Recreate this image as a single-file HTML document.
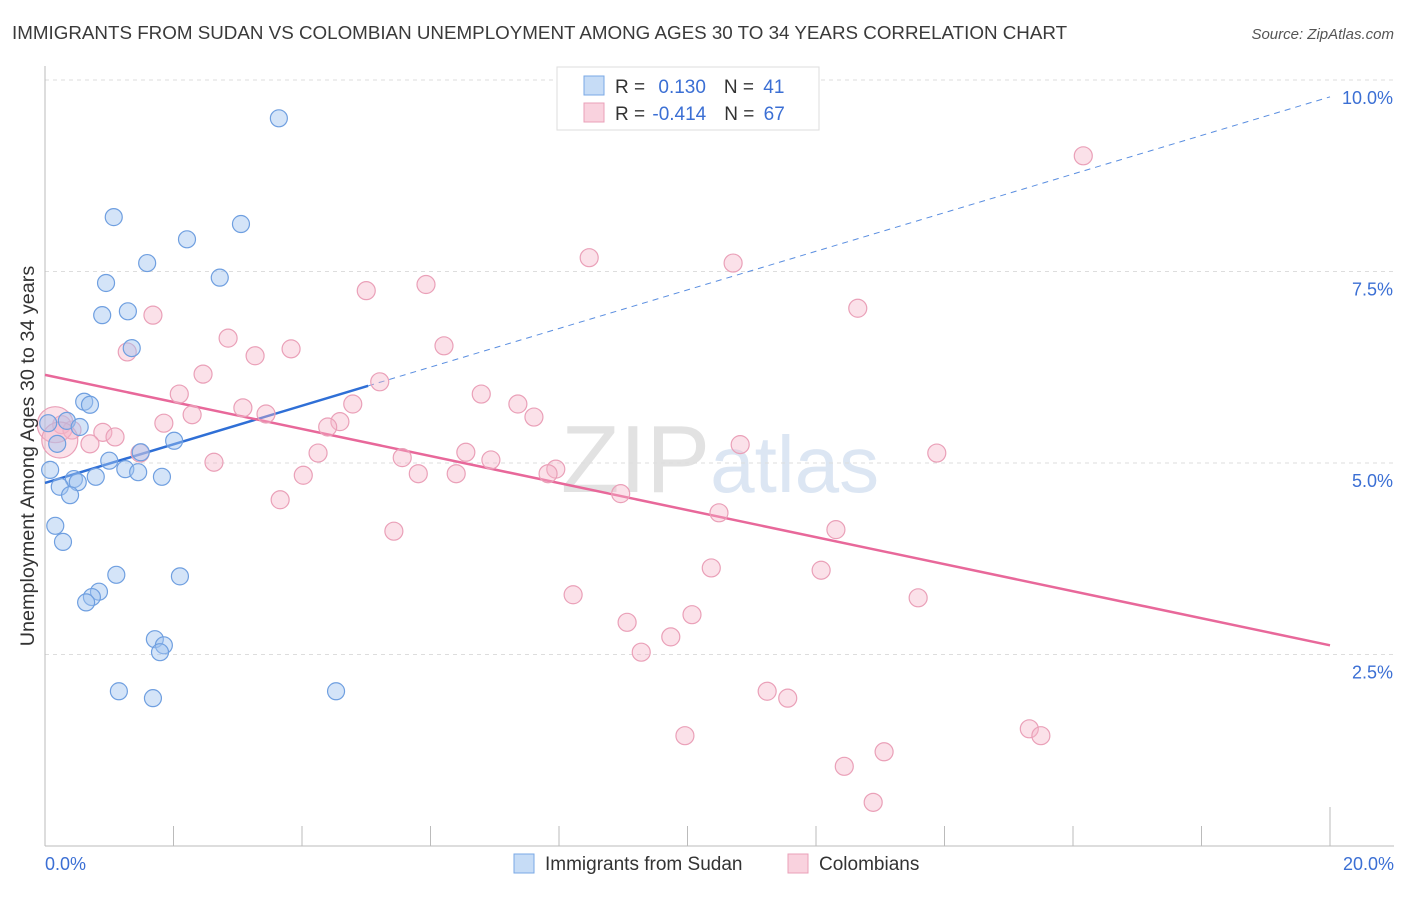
<!DOCTYPE html>
<html><head><meta charset="utf-8"><style>
body{margin:0;background:#fff;font-family:"Liberation Sans",sans-serif}
svg text{font-family:"Liberation Sans",sans-serif}
</style></head><body>
<svg id="chart" width="1406" height="892" viewBox="0 0 1406 892" xmlns="http://www.w3.org/2000/svg">
<text x="12" y="39" font-size="18.8" fill="#3a3a3a">IMMIGRANTS FROM SUDAN VS COLOMBIAN UNEMPLOYMENT AMONG AGES 30 TO 34 YEARS CORRELATION CHART</text>
<text x="1394" y="39" font-size="15" fill="#555" text-anchor="end" font-style="italic">Source: ZipAtlas.com</text>
<text x="720" y="492" font-size="96" fill="#e6e6e6" text-anchor="middle" font-family="Liberation Serif,serif"><tspan fill="#e2e2e2">ZIP</tspan><tspan fill="#dce6f3" font-family="Liberation Sans,sans-serif" font-size="80">atlas</tspan></text>
<g id="grid"></g><g id="axes"></g><g id="trend"></g><g id="pts"></g>
<text transform="translate(34,456) rotate(-90)" font-size="19.8" fill="#333" text-anchor="middle">Unemployment Among Ages 30 to 34 years</text>
<g>
<rect x="557" y="67" width="262" height="63" fill="#fff" stroke="#ddd"/>
<rect x="584" y="76" width="20" height="19" fill="rgba(160,196,240,0.6)" stroke="#7aa8e6"/>
<rect x="584" y="103" width="20" height="19" fill="rgba(245,180,200,0.6)" stroke="#eaa0b8"/>
<text x="615" y="93" font-size="19" fill="#333">R = <tspan fill="#3b6fd4" dx="8">0.130</tspan><tspan dx="18" fill="#333">N = </tspan><tspan fill="#3b6fd4" dx="4">41</tspan></text>
<text x="615" y="120" font-size="19" fill="#333">R = <tspan fill="#3b6fd4" dx="2">-0.414</tspan><tspan dx="18" fill="#333">N = </tspan><tspan fill="#3b6fd4" dx="4">67</tspan></text>
</g>
<g>
<rect x="514" y="854" width="20" height="19" fill="rgba(160,196,240,0.6)" stroke="#7aa8e6"/>
<text x="545" y="870" font-size="19" fill="#333">Immigrants from Sudan</text>
<rect x="788" y="854" width="20" height="19" fill="rgba(245,180,200,0.6)" stroke="#eaa0b8"/>
<text x="819" y="870" font-size="19" fill="#333">Colombians</text>
</g>
</svg>
<script>
const blueX=[3.64,1.07,3.05,2.21,1.59,2.72,0.95,1.29,0.89,1.35,0.61,0.70,0.34,0.54,2.01,1.49,0.19,0.08,1.00,1.25,1.45,1.82,0.45,0.79,0.51,0.23,0.39,0.16,0.28,1.11,2.10,0.84,0.73,0.64,1.71,1.85,1.79,1.15,1.68,4.53,0.05];
const blueY=[9.50,8.21,8.12,7.92,7.61,7.42,7.35,6.98,6.93,6.50,5.80,5.76,5.55,5.47,5.29,5.14,5.25,4.91,5.03,4.92,4.88,4.82,4.79,4.82,4.75,4.69,4.58,4.18,3.97,3.54,3.52,3.32,3.25,3.18,2.70,2.62,2.53,2.02,1.93,2.02,5.52];
const pinkX=[11.69,16.16,8.47,10.71,5.93,5.00,12.65,1.68,2.85,6.21,3.83,1.28,3.27,2.46,5.21,2.09,6.79,4.79,3.08,7.36,2.29,3.44,7.61,1.85,4.59,4.40,0.26,0.42,0.90,1.09,1.48,6.55,10.82,13.88,4.25,0.70,5.56,6.94,2.63,7.95,7.83,6.40,5.81,4.02,3.66,8.96,5.43,10.49,12.31,10.37,12.08,8.22,13.59,9.06,10.07,9.74,9.28,11.24,11.56,15.32,15.50,9.96,13.06,12.44,12.89,0.16,0.23];
const pinkY=[9.50,9.01,7.68,7.61,7.33,7.25,7.02,6.93,6.63,6.53,6.49,6.45,6.40,6.16,6.06,5.90,5.90,5.77,5.72,5.77,5.63,5.64,5.60,5.52,5.54,5.47,5.50,5.43,5.40,5.34,5.13,5.14,5.24,5.13,5.13,5.25,5.07,5.04,5.01,4.92,4.86,4.86,4.86,4.84,4.52,4.60,4.11,4.35,4.13,3.63,3.60,3.28,3.24,2.92,3.02,2.73,2.53,2.02,1.93,1.53,1.44,1.44,1.23,1.04,0.57,5.50,5.30];
const yTicks=[2.5,5.0,7.5,10.0];
const yTickLabels=["2.5%","5.0%","7.5%","10.0%"];
const xTickLabels=["0.0%","20.0%"];
const blueTrend=[4.74,9.78];
const blueSolidEnd=5.03;
const pinkTrend=[6.15,2.62];
const X=v=>45+v*64.25, Y=v=>846-v*76.6;
const NS="http://www.w3.org/2000/svg";
function mk(p,t,a){const e=document.createElementNS(NS,t);for(const k in a)e.setAttribute(k,a[k]);p.appendChild(e);return e;}
const grid=document.getElementById('grid'),axes=document.getElementById('axes'),trend=document.getElementById('trend'),pts=document.getElementById('pts');
yTicks.forEach((v,i)=>{
 const l=mk(grid,'line',{x1:45,x2:1394,y1:Y(v),y2:Y(v),stroke:'#ddd','stroke-dasharray':'4,4'});
 
 
 const t=mk(grid,'text',{x:1393,y:Y(v)+24,'font-size':18,fill:'#3b6fd4','text-anchor':'end'});
 t.textContent=yTickLabels[i];
 
 
});
const ax=mk(axes,'line',{x1:45,x2:1394,y1:846,y2:846,stroke:'#bbb'});


const ay=mk(axes,'line',{x1:45,x2:45,y1:66,y2:846,stroke:'#bbb'});


for(let i=1;i<=10;i++){
 const tk=mk(axes,'line',{x1:X(i*2),x2:X(i*2),y1:i==10?807:826,y2:846,stroke:'#bbb'});
 
 
}
[[0,'start',45],[20,'end',1394]].forEach((d,i)=>{
 const t=mk(axes,'text',{x:d[2],y:870,'font-size':18,fill:'#3b6fd4','text-anchor':d[1]});
 t.textContent=xTickLabels[i];
 
 
});
const bt=v=>blueTrend[0]+(blueTrend[1]-blueTrend[0])*v/20;
const b1=mk(trend,'line',{x1:X(0),y1:Y(bt(0)),x2:X(blueSolidEnd),y2:Y(bt(blueSolidEnd)),stroke:'#2f6fd6','stroke-width':2.5});


const b2=mk(trend,'line',{x1:X(blueSolidEnd),y1:Y(bt(blueSolidEnd)),x2:X(20),y2:Y(bt(20)),stroke:'#5a8ee0','stroke-width':1,'stroke-dasharray':'6,5'});


const p1=mk(trend,'line',{x1:X(0),y1:Y(pinkTrend[0]),x2:X(20),y2:Y(pinkTrend[1]),stroke:'#e8689a','stroke-width':2.5});


pinkX.forEach((x,i)=>{
 const big=i>=pinkX.length-2;
 const c=mk(pts,'circle',{cx:X(x),cy:Y(pinkY[i]),r:big?18:9,fill:'rgba(245,180,200,0.4)',stroke:'#eaa0b8','stroke-width':1.2});
 
 
});
blueX.forEach((x,i)=>{
 const c=mk(pts,'circle',{cx:X(x),cy:Y(blueY[i]),r:8.5,fill:'rgba(160,196,240,0.45)',stroke:'#6f9fe0','stroke-width':1.2});
 
 
});
</script>
</body></html>
